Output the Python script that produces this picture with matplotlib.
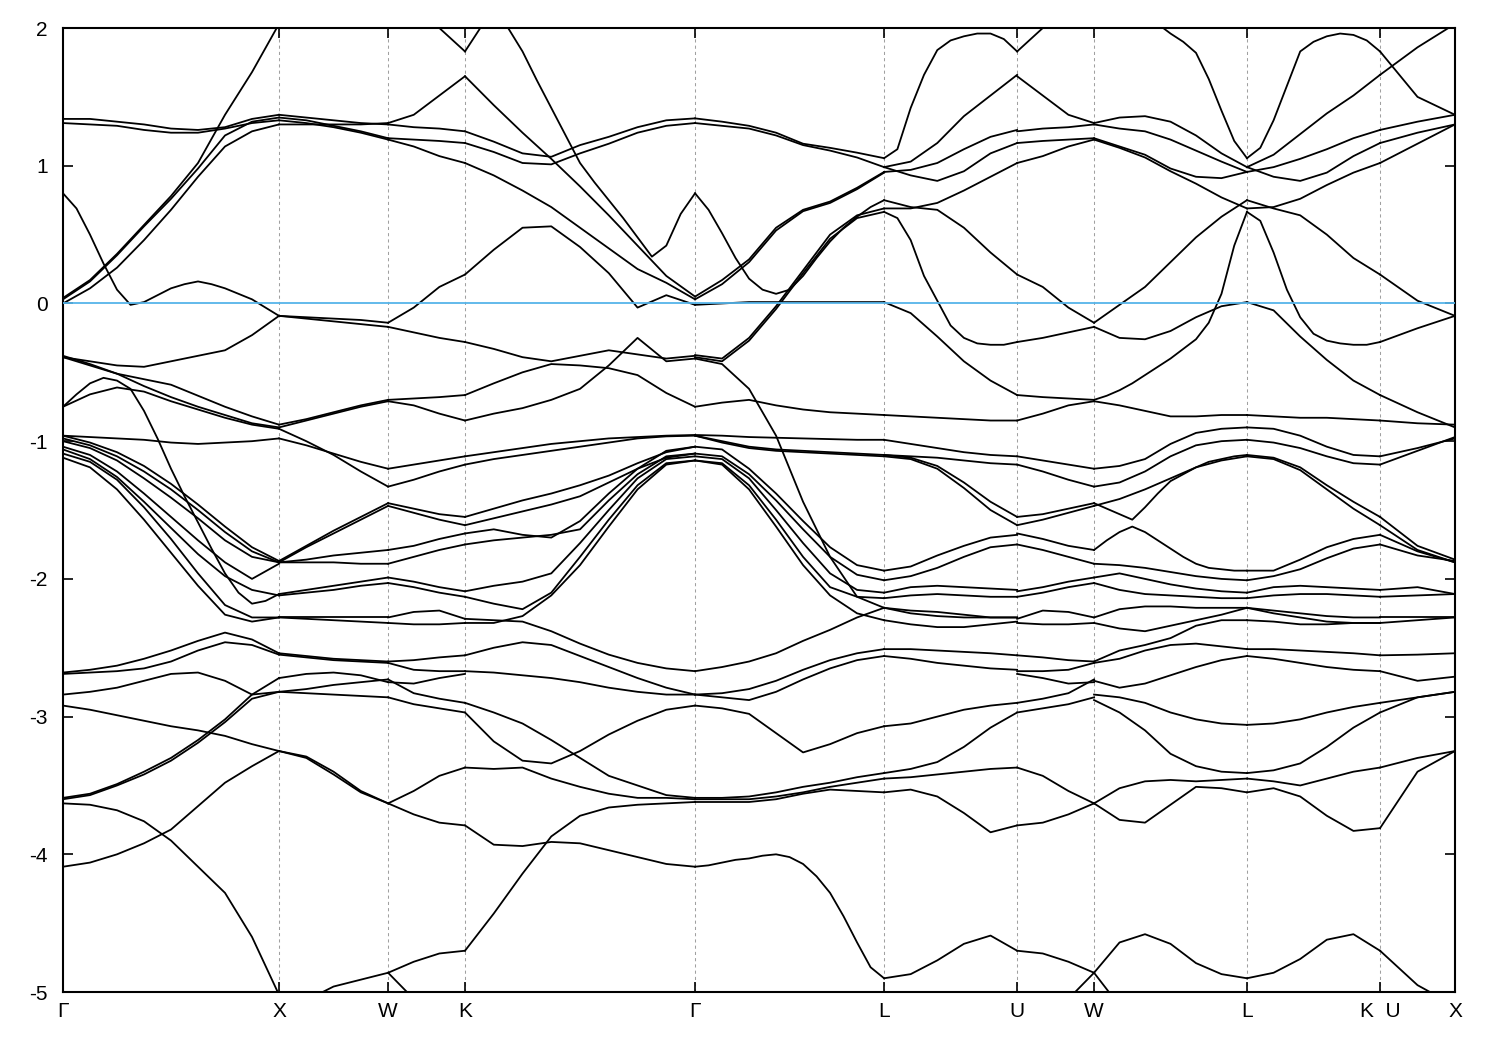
import numpy as np
import matplotlib
matplotlib.use("Agg")
from matplotlib import pyplot as plt

# high-symmetry points along the k-path (units of 2pi/a)
k_nodes = [0.0, 1.0, 1.505, 1.861, 2.926, 3.801, 4.417, 4.773, 5.481, 6.097, 6.444]
k_labels = ['Γ', 'X', 'W', 'K', 'Γ', 'L', 'U', 'W', 'L', 'K  U', 'X']

# band energies (eV); each row is sampled evenly along one segment of the path
bands_GX = [
    [1.34, 1.34, 1.32, 1.30, 1.27, 1.26, 1.28, 1.34, 1.37],
    [1.31, 1.30, 1.29, 1.26, 1.24, 1.24, 1.27, 1.31, 1.33],
    [0.04, 0.17, 0.36, 0.57, 0.78, 1.02, 1.37, 1.68, 2.03],
    [0.03, 0.16, 0.35, 0.56, 0.76, 0.98, 1.22, 1.32, 1.35],
    [0.00, 0.11, 0.26, 0.46, 0.68, 0.92, 1.14, 1.25, 1.30],
    [0.80, 0.69, 0.50, 0.29, 0.10, -0.01, 0.01, 0.06, 0.11,
     0.14, 0.16, 0.14, 0.11, 0.07, 0.03, -0.03, -0.09],
    [-0.39, -0.42, -0.45, -0.46, -0.42, -0.38, -0.34, -0.23, -0.09],
    [-0.38, -0.44, -0.51, -0.55, -0.59, -0.67, -0.75, -0.82, -0.88],
    [-0.39, -0.45, -0.51, -0.60, -0.68, -0.75, -0.81, -0.87, -0.90],
    [-0.75, -0.66, -0.58, -0.54, -0.56, -0.62, -0.78, -0.98, -1.20,
     -1.40, -1.59, -1.78, -1.96, -2.10, -2.18, -2.16, -2.11],
    [-0.75, -0.66, -0.61, -0.64, -0.71, -0.77, -0.83, -0.88, -0.91],
    [-0.96, -0.97, -0.98, -0.99, -1.01, -1.02, -1.01, -1.00, -0.98],
    [-0.96, -1.01, -1.08, -1.18, -1.31, -1.46, -1.62, -1.77, -1.87],
    [-0.98, -1.03, -1.11, -1.22, -1.35, -1.50, -1.66, -1.80, -1.88],
    [-1.00, -1.05, -1.14, -1.27, -1.41, -1.56, -1.72, -1.84, -1.88],
    [-1.04, -1.10, -1.22, -1.38, -1.55, -1.72, -1.88, -2.00, -1.89],
    [-1.06, -1.13, -1.26, -1.44, -1.63, -1.82, -1.98, -2.08, -2.12],
    [-1.09, -1.15, -1.28, -1.48, -1.71, -1.96, -2.19, -2.28, -2.28],
    [-1.12, -1.19, -1.35, -1.57, -1.81, -2.05, -2.26, -2.31, -2.28],
    [-2.68, -2.66, -2.63, -2.58, -2.52, -2.45, -2.39, -2.44, -2.54],
    [-2.69, -2.68, -2.67, -2.65, -2.60, -2.52, -2.46, -2.48, -2.55],
    [-2.84, -2.82, -2.79, -2.74, -2.69, -2.68, -2.74, -2.84, -2.72],
    [-3.59, -3.56, -3.49, -3.40, -3.30, -3.17, -3.02, -2.84, -2.82],
    [-3.60, -3.57, -3.50, -3.42, -3.32, -3.19, -3.04, -2.87, -2.82],
    [-2.92, -2.95, -2.99, -3.03, -3.07, -3.10, -3.14, -3.20, -3.25],
    [-4.09, -4.06, -4.00, -3.92, -3.82, -3.65, -3.48, -3.36, -3.25],
    [-3.63, -3.64, -3.68, -3.76, -3.90, -4.09, -4.28, -4.60, -5.02],
]

bands_XW = [
    [2.03, 2.20, 2.30, 2.40, 2.40],
    [1.37, 1.35, 1.33, 1.31, 1.30],
    [1.35, 1.33, 1.29, 1.25, 1.20],
    [1.33, 1.31, 1.28, 1.24, 1.19],
    [1.30, 1.30, 1.30, 1.30, 1.31],
    [-0.09, -0.10, -0.11, -0.12, -0.14],
    [-0.09, -0.11, -0.13, -0.15, -0.17],
    [-0.88, -0.84, -0.79, -0.74, -0.70],
    [-0.90, -0.85, -0.80, -0.75, -0.71],
    [-0.98, -1.03, -1.09, -1.15, -1.20],
    [-0.91, -1.00, -1.10, -1.22, -1.33],
    [-1.87, -1.76, -1.65, -1.55, -1.45],
    [-1.88, -1.77, -1.67, -1.57, -1.47],
    [-1.88, -1.86, -1.83, -1.81, -1.79],
    [-1.88, -1.88, -1.88, -1.89, -1.89],
    [-2.11, -2.08, -2.05, -2.02, -1.99],
    [-2.12, -2.10, -2.08, -2.05, -2.03],
    [-2.28, -2.28, -2.28, -2.28, -2.28],
    [-2.28, -2.29, -2.30, -2.31, -2.32],
    [-2.54, -2.56, -2.58, -2.59, -2.60],
    [-2.55, -2.57, -2.59, -2.60, -2.61],
    [-2.72, -2.69, -2.68, -2.70, -2.75],
    [-2.82, -2.80, -2.77, -2.75, -2.73],
    [-2.82, -2.83, -2.84, -2.85, -2.86],
    [-3.25, -3.29, -3.40, -3.54, -3.63],
    [-3.25, -3.30, -3.42, -3.55, -3.63],
    [-5.30, -5.06, -4.96, -4.91, -4.86],
]

bands_WK = [
    [2.40, 2.20, 2.00, 1.83],
    [1.31, 1.37, 1.51, 1.65],
    [1.30, 1.28, 1.27, 1.25],
    [1.20, 1.19, 1.18, 1.165],
    [1.19, 1.14, 1.07, 1.02],
    [-0.14, -0.03, 0.12, 0.21],
    [-0.17, -0.21, -0.25, -0.28],
    [-0.70, -0.69, -0.68, -0.665],
    [-0.71, -0.74, -0.80, -0.85],
    [-1.20, -1.17, -1.14, -1.11],
    [-1.33, -1.28, -1.22, -1.17],
    [-1.45, -1.49, -1.53, -1.55],
    [-1.47, -1.52, -1.57, -1.61],
    [-1.79, -1.76, -1.71, -1.67],
    [-1.89, -1.84, -1.79, -1.75],
    [-1.99, -2.02, -2.06, -2.09],
    [-2.03, -2.06, -2.10, -2.13],
    [-2.28, -2.24, -2.23, -2.29],
    [-2.32, -2.33, -2.33, -2.32],
    [-2.60, -2.59, -2.57, -2.555],
    [-2.61, -2.66, -2.67, -2.67],
    [-2.75, -2.76, -2.72, -2.69],
    [-2.73, -2.83, -2.87, -2.90],
    [-2.86, -2.91, -2.94, -2.97],
    [-3.63, -3.54, -3.43, -3.37],
    [-3.63, -3.71, -3.77, -3.79],
    [-4.86, -4.78, -4.72, -4.70],
    [-4.86, -5.05, -5.20, -5.30],
]

bands_KG = [
    [1.83, 2.15, 2.40, 2.50, 2.50, 2.50, 2.50, 2.50, 2.50],
    [2.60, 2.40, 2.20, 2.00, 1.83, 1.62, 1.42, 1.22, 1.02,
     0.88, 0.75, 0.62, 0.48, 0.34, 0.42, 0.65, 0.80],
    [1.65, 1.44, 1.24, 1.05, 0.85, 0.64, 0.42, 0.20, 0.05],
    [1.25, 1.175, 1.09, 1.065, 1.15, 1.21, 1.28, 1.33, 1.344],
    [1.165, 1.10, 1.02, 1.01, 1.09, 1.16, 1.24, 1.29, 1.31],
    [1.02, 0.93, 0.82, 0.70, 0.55, 0.40, 0.25, 0.15, 0.03],
    [0.21, 0.39, 0.55, 0.56, 0.41, 0.22, -0.03, 0.06, -0.01],
    [-0.28, -0.33, -0.39, -0.42, -0.38, -0.34, -0.37, -0.40, -0.38],
    [-0.665, -0.58, -0.50, -0.44, -0.45, -0.47, -0.52, -0.65, -0.75],
    [-0.85, -0.80, -0.76, -0.70, -0.62, -0.45, -0.25, -0.42, -0.40],
    [-1.11, -1.08, -1.05, -1.02, -1.00, -0.98, -0.97, -0.96, -0.955],
    [-1.17, -1.13, -1.10, -1.07, -1.04, -1.01, -0.98, -0.965, -0.96],
    [-1.55, -1.49, -1.43, -1.38, -1.32, -1.25, -1.16, -1.08, -1.04],
    [-1.61, -1.56, -1.51, -1.46, -1.40, -1.30, -1.20, -1.12, -1.09],
    [-1.67, -1.64, -1.68, -1.70, -1.58, -1.38, -1.20, -1.07, -1.04],
    [-1.75, -1.72, -1.70, -1.68, -1.64, -1.43, -1.24, -1.11, -1.09],
    [-2.09, -2.05, -2.02, -1.96, -1.74, -1.50, -1.27, -1.13, -1.11],
    [-2.13, -2.18, -2.22, -2.10, -1.84, -1.57, -1.32, -1.16, -1.14],
    [-2.32, -2.32, -2.27, -2.12, -1.90, -1.62, -1.35, -1.17, -1.14],
    [-2.29, -2.30, -2.31, -2.38, -2.47, -2.55, -2.61, -2.65, -2.67],
    [-2.555, -2.50, -2.46, -2.48, -2.56, -2.64, -2.72, -2.79, -2.84],
    [-2.67, -2.68, -2.70, -2.72, -2.75, -2.79, -2.82, -2.84, -2.84],
    [-2.90, -2.97, -3.05, -3.17, -3.30, -3.43, -3.50, -3.57, -3.59],
    [-2.97, -3.18, -3.32, -3.34, -3.25, -3.13, -3.03, -2.95, -2.92],
    [-3.37, -3.38, -3.37, -3.45, -3.51, -3.56, -3.59, -3.59, -3.60],
    [-3.79, -3.93, -3.94, -3.91, -3.92, -3.97, -4.02, -4.07, -4.09],
    [-4.70, -4.43, -4.14, -3.87, -3.72, -3.66, -3.64, -3.63, -3.62],
]

bands_GL = [
    [1.344, 1.32, 1.29, 1.24, 1.16, 1.13, 1.095, 1.055],
    [1.31, 1.29, 1.27, 1.22, 1.15, 1.11, 1.06, 0.99],
    [0.05, 0.17, 0.32, 0.55, 0.68, 0.74, 0.84, 0.955],
    [0.03, 0.14, 0.30, 0.53, 0.67, 0.73, 0.83, 0.95],
    [0.80, 0.68, 0.51, 0.33, 0.18, 0.10, 0.07, 0.10,
     0.20, 0.33, 0.45, 0.55, 0.63, 0.70, 0.75],
    [-0.375, -0.40, -0.25, -0.02, 0.24, 0.50, 0.64, 0.69],
    [-0.39, -0.42, -0.27, -0.04, 0.22, 0.47, 0.62, 0.665],
    [-0.01, 0.00, 0.01, 0.01, 0.01, 0.01, 0.01, 0.01],
    [-0.40, -0.44, -0.62, -0.96, -1.44, -1.84, -2.13, -2.21],
    [-0.75, -0.72, -0.70, -0.74, -0.77, -0.79, -0.80, -0.81],
    [-0.955, -0.96, -0.97, -0.975, -0.98, -0.985, -0.99, -0.99],
    [-0.96, -1.00, -1.04, -1.06, -1.07, -1.08, -1.09, -1.10],
    [-0.96, -1.01, -1.05, -1.07, -1.08, -1.09, -1.10, -1.11],
    [-1.04, -1.06, -1.20, -1.38, -1.58, -1.77, -1.90, -1.94],
    [-1.09, -1.11, -1.24, -1.43, -1.64, -1.84, -1.97, -2.01],
    [-1.11, -1.13, -1.27, -1.50, -1.74, -1.96, -2.08, -2.10],
    [-1.14, -1.16, -1.32, -1.57, -1.84, -2.06, -2.13, -2.14],
    [-1.14, -1.17, -1.35, -1.62, -1.90, -2.12, -2.25, -2.30],
    [-2.67, -2.64, -2.60, -2.54, -2.45, -2.37, -2.28, -2.21],
    [-2.84, -2.83, -2.80, -2.74, -2.66, -2.59, -2.54, -2.51],
    [-2.84, -2.86, -2.88, -2.82, -2.73, -2.65, -2.59, -2.56],
    [-2.92, -2.94, -2.98, -3.12, -3.26, -3.20, -3.12, -3.07],
    [-3.59, -3.59, -3.58, -3.55, -3.51, -3.48, -3.44, -3.41],
    [-3.60, -3.60, -3.60, -3.58, -3.55, -3.51, -3.48, -3.45],
    [-3.62, -3.62, -3.62, -3.60, -3.56, -3.53, -3.54, -3.55],
    [-4.09, -4.08, -4.06, -4.04, -4.03, -4.01, -4.00, -4.02,
     -4.07, -4.16, -4.28, -4.45, -4.64, -4.82, -4.90],
]

bands_LU = [
    [1.055, 1.12, 1.42, 1.66, 1.84, 1.91, 1.94, 1.96, 1.96, 1.92, 1.83],
    [0.99, 1.03, 1.165, 1.36, 1.51, 1.66],
    [0.955, 0.97, 1.02, 1.12, 1.21, 1.26],
    [0.99, 0.93, 0.89, 0.96, 1.09, 1.165],
    [0.69, 0.69, 0.73, 0.82, 0.92, 1.02],
    [0.75, 0.70, 0.68, 0.55, 0.37, 0.21],
    [0.665, 0.62, 0.46, 0.20, 0.02, -0.16, -0.25, -0.29, -0.30, -0.30, -0.28],
    [0.01, -0.07, -0.24, -0.42, -0.56, -0.665],
    [-0.81, -0.82, -0.83, -0.84, -0.85, -0.85],
    [-0.99, -1.02, -1.05, -1.08, -1.10, -1.11],
    [-1.10, -1.11, -1.12, -1.14, -1.16, -1.17],
    [-1.10, -1.12, -1.18, -1.30, -1.44, -1.55],
    [-1.11, -1.13, -1.20, -1.34, -1.50, -1.61],
    [-1.94, -1.91, -1.83, -1.76, -1.70, -1.68],
    [-2.01, -1.98, -1.92, -1.84, -1.77, -1.75],
    [-2.10, -2.06, -2.05, -2.06, -2.07, -2.08],
    [-2.14, -2.12, -2.11, -2.12, -2.13, -2.13],
    [-2.21, -2.23, -2.24, -2.26, -2.28, -2.28],
    [-2.21, -2.25, -2.27, -2.28, -2.28, -2.28],
    [-2.30, -2.33, -2.35, -2.35, -2.33, -2.31],
    [-2.51, -2.51, -2.52, -2.53, -2.54, -2.555],
    [-2.56, -2.58, -2.61, -2.63, -2.65, -2.66],
    [-3.07, -3.05, -3.00, -2.95, -2.92, -2.90],
    [-3.41, -3.38, -3.33, -3.22, -3.08, -2.97],
    [-3.45, -3.44, -3.42, -3.40, -3.38, -3.37],
    [-3.55, -3.53, -3.58, -3.70, -3.84, -3.79],
    [-4.90, -4.87, -4.77, -4.65, -4.59, -4.70],
]

bands_UW = [
    [1.83, 2.00, 2.20, 2.40],
    [1.65, 1.51, 1.37, 1.31],
    [1.25, 1.27, 1.28, 1.30],
    [1.165, 1.18, 1.19, 1.20],
    [1.02, 1.07, 1.14, 1.19],
    [0.21, 0.12, -0.03, -0.14],
    [-0.28, -0.25, -0.21, -0.17],
    [-0.665, -0.68, -0.69, -0.70],
    [-0.85, -0.80, -0.74, -0.71],
    [-1.11, -1.14, -1.17, -1.20],
    [-1.17, -1.22, -1.28, -1.33],
    [-1.55, -1.53, -1.49, -1.45],
    [-1.61, -1.57, -1.52, -1.47],
    [-1.67, -1.71, -1.76, -1.79],
    [-1.75, -1.79, -1.84, -1.89],
    [-2.09, -2.06, -2.02, -1.99],
    [-2.13, -2.10, -2.06, -2.03],
    [-2.29, -2.23, -2.24, -2.28],
    [-2.32, -2.33, -2.33, -2.32],
    [-2.555, -2.57, -2.59, -2.60],
    [-2.67, -2.67, -2.66, -2.61],
    [-2.69, -2.72, -2.76, -2.75],
    [-2.90, -2.87, -2.83, -2.73],
    [-2.97, -2.94, -2.91, -2.86],
    [-3.37, -3.43, -3.54, -3.63],
    [-3.79, -3.77, -3.71, -3.63],
    [-4.70, -4.72, -4.78, -4.86],
    [-5.30, -5.20, -5.05, -4.86],
]

bands_WL = [
    [2.60, 2.50, 2.40, 2.25, 2.12, 2.03, 1.96, 1.90, 1.82, 1.63, 1.40, 1.18, 1.055],
    [1.31, 1.35, 1.36, 1.32, 1.22, 1.09, 0.99],
    [1.30, 1.27, 1.25, 1.19, 1.11, 1.03, 0.955],
    [1.20, 1.14, 1.08, 0.98, 0.92, 0.91, 0.955],
    [1.19, 1.13, 1.06, 0.96, 0.87, 0.77, 0.69],
    [-0.14, -0.01, 0.12, 0.30, 0.48, 0.63, 0.75],
    [-0.17, -0.25, -0.26, -0.20, -0.10, -0.02, 0.01],
    [-0.70, -0.67, -0.63, -0.58, -0.52, -0.46, -0.40, -0.33, -0.26, -0.14, 0.07, 0.42, 0.665],
    [-0.71, -0.74, -0.78, -0.82, -0.82, -0.81, -0.81],
    [-1.20, -1.18, -1.13, -1.02, -0.94, -0.91, -0.90],
    [-1.33, -1.30, -1.22, -1.11, -1.03, -1.00, -0.99],
    [-1.45, -1.49, -1.53, -1.57, -1.48, -1.38, -1.29, -1.24, -1.19, -1.15, -1.13, -1.11, -1.10],
    [-1.47, -1.42, -1.35, -1.27, -1.19, -1.14, -1.11],
    [-1.79, -1.72, -1.66, -1.62, -1.66, -1.72, -1.78, -1.84, -1.89, -1.92, -1.93, -1.94, -1.94],
    [-1.89, -1.90, -1.92, -1.95, -1.98, -2.00, -2.01],
    [-1.99, -1.96, -2.00, -2.04, -2.07, -2.09, -2.10],
    [-2.03, -2.08, -2.11, -2.12, -2.13, -2.14, -2.14],
    [-2.28, -2.22, -2.20, -2.20, -2.21, -2.21, -2.21],
    [-2.32, -2.36, -2.38, -2.34, -2.30, -2.26, -2.21],
    [-2.60, -2.52, -2.48, -2.43, -2.34, -2.30, -2.30],
    [-2.61, -2.58, -2.52, -2.48, -2.47, -2.49, -2.51],
    [-2.74, -2.79, -2.76, -2.70, -2.64, -2.59, -2.56],
    [-2.84, -2.86, -2.90, -2.97, -3.02, -3.05, -3.06],
    [-2.88, -2.97, -3.10, -3.27, -3.36, -3.40, -3.41],
    [-3.63, -3.75, -3.77, -3.64, -3.51, -3.52, -3.55],
    [-3.63, -3.52, -3.47, -3.46, -3.47, -3.46, -3.45],
    [-4.86, -4.64, -4.58, -4.65, -4.79, -4.87, -4.90],
    [-4.86, -5.10, -5.30, -5.40, -5.50, -5.50, -5.50],
]

bands_LK = [
    [1.055, 1.13, 1.33, 1.58, 1.83, 1.90, 1.94, 1.96, 1.95, 1.91, 1.83],
    [0.99, 1.08, 1.23, 1.38, 1.51, 1.66],
    [0.955, 0.99, 1.05, 1.12, 1.20, 1.26],
    [0.99, 0.92, 0.89, 0.95, 1.07, 1.165],
    [0.69, 0.70, 0.76, 0.86, 0.95, 1.02],
    [0.75, 0.69, 0.64, 0.50, 0.33, 0.21],
    [0.665, 0.60, 0.37, 0.10, -0.10, -0.22, -0.27, -0.29, -0.30, -0.30, -0.28],
    [0.01, -0.05, -0.24, -0.41, -0.56, -0.665],
    [-0.81, -0.82, -0.83, -0.83, -0.84, -0.85],
    [-0.90, -0.91, -0.96, -1.04, -1.10, -1.11],
    [-0.99, -1.01, -1.05, -1.11, -1.16, -1.17],
    [-1.10, -1.12, -1.19, -1.32, -1.44, -1.55],
    [-1.11, -1.13, -1.21, -1.35, -1.49, -1.61],
    [-1.94, -1.94, -1.86, -1.77, -1.71, -1.68],
    [-2.01, -1.98, -1.93, -1.85, -1.78, -1.75],
    [-2.10, -2.06, -2.05, -2.06, -2.07, -2.08],
    [-2.14, -2.12, -2.11, -2.11, -2.12, -2.13],
    [-2.21, -2.23, -2.25, -2.27, -2.28, -2.28],
    [-2.21, -2.25, -2.28, -2.31, -2.32, -2.32],
    [-2.30, -2.31, -2.33, -2.33, -2.32, -2.32],
    [-2.51, -2.51, -2.52, -2.53, -2.54, -2.555],
    [-2.56, -2.58, -2.61, -2.64, -2.66, -2.67],
    [-3.06, -3.05, -3.02, -2.97, -2.93, -2.90],
    [-3.41, -3.39, -3.34, -3.22, -3.08, -2.97],
    [-3.45, -3.47, -3.50, -3.45, -3.40, -3.37],
    [-3.55, -3.52, -3.58, -3.72, -3.83, -3.81],
    [-4.90, -4.86, -4.76, -4.62, -4.58, -4.70],
]

bands_UX = [
    [1.66, 1.86, 2.03],
    [1.83, 1.50, 1.37],
    [1.26, 1.32, 1.37],
    [1.165, 1.24, 1.30],
    [1.02, 1.16, 1.30],
    [0.21, 0.02, -0.09],
    [-0.28, -0.18, -0.09],
    [-0.665, -0.79, -0.90],
    [-0.85, -0.87, -0.88],
    [-1.11, -1.05, -0.98],
    [-1.17, -1.07, -0.97],
    [-1.55, -1.76, -1.86],
    [-1.61, -1.79, -1.88],
    [-1.68, -1.80, -1.88],
    [-1.75, -1.83, -1.87],
    [-2.08, -2.06, -2.11],
    [-2.13, -2.12, -2.11],
    [-2.28, -2.28, -2.28],
    [-2.32, -2.30, -2.28],
    [-2.555, -2.55, -2.54],
    [-2.67, -2.74, -2.71],
    [-2.90, -2.86, -2.82],
    [-2.97, -2.86, -2.82],
    [-3.37, -3.30, -3.25],
    [-3.81, -3.40, -3.25],
    [-4.70, -4.95, -5.10],
]

segments = [bands_GX, bands_XW, bands_WK, bands_KG, bands_GL, bands_LU,
            bands_UW, bands_WL, bands_LK, bands_UX]

plt.rcParams['font.family'] = ['Liberation Sans', 'DejaVu Sans']

fig = plt.figure(figsize=(15, 10.5), dpi=100)
ax = fig.add_axes([0.042, 0.0552, 0.928, 0.9181])

# dotted guides at the high-symmetry points
for kx in k_nodes[1:-1]:
    ax.axvline(kx, color='#a0a0a0', lw=0.75, dashes=(3, 3), zorder=1)

for i, seg in enumerate(segments):
    for row in seg:
        k = np.linspace(k_nodes[i], k_nodes[i + 1], len(row))
        ax.plot(k, row, color='black', lw=1.3, solid_joinstyle='round', zorder=2)

# Fermi level
ax.axhline(0.0, color='#56b4e9', lw=1.3, zorder=3)

ax.set_xlim(k_nodes[0], k_nodes[-1])
ax.set_ylim(-5, 2)
ax.set_xticks(k_nodes)
ax.set_xticklabels(k_labels)
ax.set_yticks(range(-5, 3))
ax.set_yticklabels([str(v) for v in range(-5, 3)])

ax.tick_params(axis='both', direction='in', length=7, width=1.2,
               top=True, right=True, labelsize=15)
ax.tick_params(axis='y', pad=11)
ax.tick_params(axis='x', pad=7)
for sp in ax.spines.values():
    sp.set_linewidth(1.5)

fig.savefig('out.png', dpi=100)
